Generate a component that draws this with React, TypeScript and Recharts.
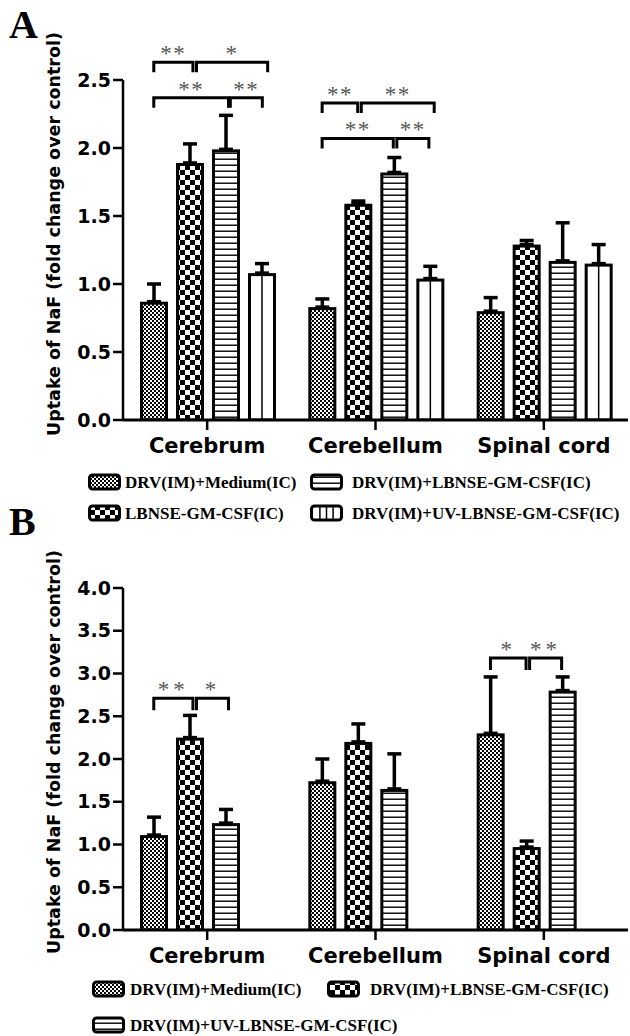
import { Bar, BarChart, ErrorBar, ReferenceLine, XAxis, YAxis } from "recharts";

const categories = ["Cerebrum", "Cerebellum", "Spinal cord"];

// panel A
const namesA = [
  "DRV(IM)+Medium(IC)",
  "LBNSE-GM-CSF(IC)",
  "DRV(IM)+LBNSE-GM-CSF(IC)",
  "DRV(IM)+UV-LBNSE-GM-CSF(IC)",
];
const mediumA = [0.87, 0.83, 0.8];
const mediumErrA = [0.13, 0.06, 0.1];
const lbnseA = [1.89, 1.59, 1.29];
const lbnseErrA = [0.14, 0.02, 0.03];
const drvLbnseA = [1.99, 1.82, 1.17];
const drvLbnseErrA = [0.25, 0.11, 0.28];
const uvA = [1.08, 1.04, 1.15];
const uvErrA = [0.07, 0.09, 0.14];
const ticksA = [0, 0.5, 1, 1.5, 2, 2.5];

// panel B
const namesB = [
  "DRV(IM)+Medium(IC)",
  "DRV(IM)+LBNSE-GM-CSF(IC)",
  "DRV(IM)+UV-LBNSE-GM-CSF(IC)",
];
const mediumB = [1.11, 1.74, 2.3];
const mediumErrB = [0.21, 0.26, 0.66];
const lbnseB = [2.25, 2.2, 0.97];
const lbnseErrB = [0.26, 0.21, 0.07];
const uvB = [1.25, 1.65, 2.8];
const uvErrB = [0.16, 0.41, 0.16];
const ticksB = [0, 0.5, 1, 1.5, 2, 2.5, 3, 3.5, 4];

type Kind = "fine" | "checker" | "hlines" | "vlines";
type Series = { name: string; values: number[]; errors: number[]; kind: Kind };
type Bracket = { cat: number; from: number; to: number; level: number; label: string };

const seriesA: Series[] = [
  { name: namesA[0], values: mediumA, errors: mediumErrA, kind: "fine" },
  { name: namesA[1], values: lbnseA, errors: lbnseErrA, kind: "checker" },
  { name: namesA[2], values: drvLbnseA, errors: drvLbnseErrA, kind: "hlines" },
  { name: namesA[3], values: uvA, errors: uvErrA, kind: "vlines" },
];

const seriesB: Series[] = [
  { name: namesB[0], values: mediumB, errors: mediumErrB, kind: "fine" },
  { name: namesB[1], values: lbnseB, errors: lbnseErrB, kind: "checker" },
  { name: namesB[2], values: uvB, errors: uvErrB, kind: "hlines" },
];

// from/to are bar slot indexes inside a category
const bracketsA: Bracket[] = [
  { cat: 0, from: 0, to: 1.1, level: 2.63, label: "**" },
  { cat: 0, from: 1.2, to: 3.2, level: 2.63, label: "*" },
  { cat: 0, from: 0, to: 2.1, level: 2.37, label: "**" },
  { cat: 0, from: 2.15, to: 3.05, level: 2.37, label: "**" },
  { cat: 1, from: 0, to: 1.0, level: 2.33, label: "**" },
  { cat: 1, from: 1.1, to: 3.15, level: 2.33, label: "**" },
  { cat: 1, from: 0, to: 2.0, level: 2.07, label: "**" },
  { cat: 1, from: 2.1, to: 3.0, level: 2.07, label: "**" },
];

const bracketsB: Bracket[] = [
  { cat: 0, from: 0, to: 1.1, level: 2.71, label: "**" },
  { cat: 0, from: 1.2, to: 2.1, level: 2.71, label: "*" },
  { cat: 2, from: 0, to: 1.0, level: 3.18, label: "*" },
  { cat: 2, from: 1.1, to: 2.0, level: 3.18, label: "**" },
];

const CHART_W = 630;
const Y_AXIS_W = 123;
const MARGIN_RIGHT = 2;
const PLOT_W = CHART_W - Y_AXIS_W - MARGIN_RIGHT;
const CAT_GAP = 17;
const BAR_GAP = 8;
const SLOTS = 4;
const BAND = PLOT_W / categories.length;
const BAR_W = (BAND - 2 * CAT_GAP - (SLOTS - 1) * BAR_GAP) / SLOTS;
// hidden numeric axis used to place the brackets
const NUM_MAX = categories.length - 1;

const AXIS_FONT = "DejaVu Sans, Arial, sans-serif";
const SERIF = "Liberation Serif, Times New Roman, serif";
const TITLE = "Uptake of NaF (fold change over control)";

function slotX(cat: number, slot: number) {
  const pos = cat + (CAT_GAP + BAR_W / 2 + slot * (BAR_W + BAR_GAP)) / BAND;
  return (pos / categories.length) * NUM_MAX;
}

function patternDefs(prefix: string) {
  return (
    <defs>
      <pattern id={`${prefix}-fine`} width={4} height={4} patternUnits="userSpaceOnUse">
        <rect width={4} height={4} fill="#fff" />
        <rect width={2} height={2} fill="#000" />
        <rect x={2} y={2} width={2} height={2} fill="#000" />
      </pattern>
      <pattern id={`${prefix}-checker`} width={10} height={10} patternUnits="userSpaceOnUse">
        <rect width={10} height={10} fill="#fff" />
        <rect width={5} height={5} fill="#000" />
        <rect x={5} y={5} width={5} height={5} fill="#000" />
      </pattern>
      <pattern id={`${prefix}-hlines`} width={6} height={6} patternUnits="userSpaceOnUse">
        <rect width={6} height={6} fill="#fff" />
        <rect y={2.5} width={6} height={1.4} fill="#000" />
      </pattern>
    </defs>
  );
}

function PatternBar(props: any) {
  const { x, y, width, height, kind, prefix } = props;
  if (!height || height <= 0) return null;
  const b = 1.5;
  const cx = x + width / 2;
  return (
    <g>
      <rect
        x={x + b}
        y={y + b}
        width={width - 2 * b}
        height={height - b}
        fill={kind === "vlines" ? "#fff" : `url(#${prefix}-${kind})`}
        stroke="#000"
        strokeWidth={3}
      />
      {kind === "vlines" ? (
        <line x1={cx} x2={cx} y1={y + b} y2={y + height} stroke="#000" strokeWidth={1.5} />
      ) : null}
    </g>
  );
}

function BracketShape(props: any) {
  const { x1, y1, x2, label, drop, spacing } = props;
  if (x1 == null || y1 == null) return null;
  return (
    <g>
      <path
        d={`M${x1},${y1 + drop}V${y1}H${x2}V${y1 + drop}`}
        fill="none"
        stroke="#000"
        strokeWidth={3}
      />
      <text
        x={(x1 + x2) / 2}
        y={y1 - 1}
        textAnchor="middle"
        fontFamily={SERIF}
        fontSize={23}
        letterSpacing={spacing}
        fill="#555"
      >
        {label}
      </text>
    </g>
  );
}

function Panel({
  series,
  ticks,
  brackets,
  height,
  top,
  prefix,
  drop,
  spacing,
  titleShift,
}: {
  series: Series[];
  ticks: number[];
  brackets: Bracket[];
  height: number;
  top: number;
  prefix: string;
  drop: number;
  spacing: number;
  titleShift: number;
}) {
  const yMax = ticks[ticks.length - 1];
  const data = categories.map((name, i) => {
    const row: Record<string, unknown> = { name };
    series.forEach((s, j) => {
      row[`v${j}`] = s.values[i];
      row[`e${j}`] = [0, s.errors[i]];
    });
    return row;
  });
  const slots = Array.from({ length: SLOTS }, (_, j) => series[j]);

  return (
    <BarChart
      width={CHART_W}
      height={height}
      data={data}
      margin={{ top, right: MARGIN_RIGHT, bottom: 0, left: 0 }}
      barCategoryGap={CAT_GAP}
      barGap={BAR_GAP}
    >
      {patternDefs(prefix)}
      <XAxis
        xAxisId="c"
        dataKey="name"
        interval={0}
        height={40}
        tickSize={10}
        tickMargin={8}
        axisLine={{ stroke: "#000", strokeWidth: 3 }}
        tickLine={{ stroke: "#000", strokeWidth: 2.5 }}
        tick={{ fill: "#000", fontSize: 21, fontWeight: 700, fontFamily: AXIS_FONT }}
      />
      <XAxis xAxisId="n" type="number" domain={[0, NUM_MAX]} hide allowDataOverflow />
      <YAxis
        domain={[0, yMax]}
        ticks={ticks}
        interval={0}
        allowDataOverflow
        width={Y_AXIS_W}
        tickSize={10}
        tickMargin={2}
        tickFormatter={(v: number) => v.toFixed(1)}
        axisLine={{ stroke: "#000", strokeWidth: 2.5 }}
        tickLine={{ stroke: "#000", strokeWidth: 2.5 }}
        tick={{ fill: "#000", fontSize: 19, fontWeight: 700, fontFamily: AXIS_FONT }}
        label={{
          content: (p: any) => {
            const vb = p.viewBox ?? { x: 0, y: 0, width: 0, height: 0 };
            const tx = vb.x + 60;
            const ty = vb.y + vb.height / 2 + titleShift;
            return (
              <text
                x={tx}
                y={ty}
                transform={`rotate(-90, ${tx}, ${ty})`}
                textAnchor="middle"
                fontFamily={AXIS_FONT}
                fontWeight={700}
                fontSize={17.5}
                fill="#000"
              >
                {TITLE}
              </text>
            );
          },
        }}
      />
      {slots.map((s, j) => (
        <Bar
          key={j}
          xAxisId="c"
          dataKey={`v${j}`}
          name={s ? s.name : `slot${j}`}
          isAnimationActive={false}
          shape={(p: any) => <PatternBar {...p} kind={s ? s.kind : "fine"} prefix={prefix} />}
        >
          {s ? (
            <ErrorBar
              dataKey={`e${j}`}
              direction="y"
              width={7}
              stroke="#000"
              strokeWidth={3.5}
              isAnimationActive={false}
            />
          ) : null}
        </Bar>
      ))}
      {brackets.map((br, k) => (
        <ReferenceLine
          key={k}
          xAxisId="n"
          ifOverflow="visible"
          segment={[
            { x: slotX(br.cat, br.from), y: br.level },
            { x: slotX(br.cat, br.to), y: br.level },
          ]}
          shape={(p: any) => (
            <BracketShape {...p} label={br.label} drop={drop} spacing={spacing} />
          )}
        />
      ))}
    </BarChart>
  );
}

const legendPosA = [
  { sx: 88, tx: 125, base: 488 },
  { sx: 88, tx: 125, base: 519 },
  { sx: 310, tx: 352, base: 488 },
  { sx: 310, tx: 352, base: 519 },
];
const legendPosB = [
  { sx: 92, tx: 130, base: 995 },
  { sx: 327, tx: 370, base: 995 },
  { sx: 92, tx: 130, base: 1031 },
];

function Swatch({ x, y, kind }: { x: number; y: number; kind: Kind }) {
  const w = 33;
  const h = 17;
  return (
    <g>
      <rect
        x={x + 1.5}
        y={y + 1.5}
        width={w - 3}
        height={h - 3}
        rx={3}
        fill={kind === "vlines" ? "#fff" : `url(#lg-${kind})`}
        stroke="#000"
        strokeWidth={3}
      />
      {kind === "vlines"
        ? [0.3, 0.5, 0.7].map((f) => (
            <line
              key={f}
              x1={x + w * f}
              x2={x + w * f}
              y1={y + 2}
              y2={y + h - 2}
              stroke="#000"
              strokeWidth={1.5}
            />
          ))
        : null}
    </g>
  );
}

function Overlay() {
  const items = [
    ...seriesA.map((s, i) => ({ s, pos: legendPosA[i] })),
    ...seriesB.map((s, i) => ({ s, pos: legendPosB[i] })),
  ];
  return (
    <svg
      width={CHART_W}
      height={1036}
      style={{ position: "absolute", left: 0, top: 0, pointerEvents: "none" }}
    >
      {patternDefs("lg")}
      <text x={9} y={38} fontFamily={SERIF} fontWeight={700} fontSize={40} fill="#000">
        A
      </text>
      <text x={9} y={535} fontFamily={SERIF} fontWeight={700} fontSize={40} fill="#000">
        B
      </text>
      {items.map(({ s, pos }, i) => (
        <g key={i}>
          <Swatch x={pos.sx} y={pos.base - 14.5} kind={s.kind} />
          <text x={pos.tx} y={pos.base} fontFamily={SERIF} fontWeight={700} fontSize={17} fill="#000">
            {s.name}
          </text>
        </g>
      ))}
    </svg>
  );
}

export default function App() {
  return (
    <div
      style={{
        position: "absolute",
        left: 0,
        top: 0,
        width: CHART_W,
        height: 1036,
        background: "#fff",
      }}
    >
      <div style={{ position: "absolute", left: 0, top: 0 }}>
        <Panel
          series={seriesA}
          ticks={ticksA}
          brackets={bracketsA}
          height={460}
          top={80}
          prefix="pa"
          drop={10}
          spacing={1.5}
          titleShift={-16}
        />
      </div>
      <div style={{ position: "absolute", left: 0, top: 520 }}>
        <Panel
          series={seriesB}
          ticks={ticksB}
          brackets={bracketsB}
          height={450}
          top={68}
          prefix="pb"
          drop={12}
          spacing={4}
          titleShift={-7}
        />
      </div>
      <Overlay />
    </div>
  );
}
